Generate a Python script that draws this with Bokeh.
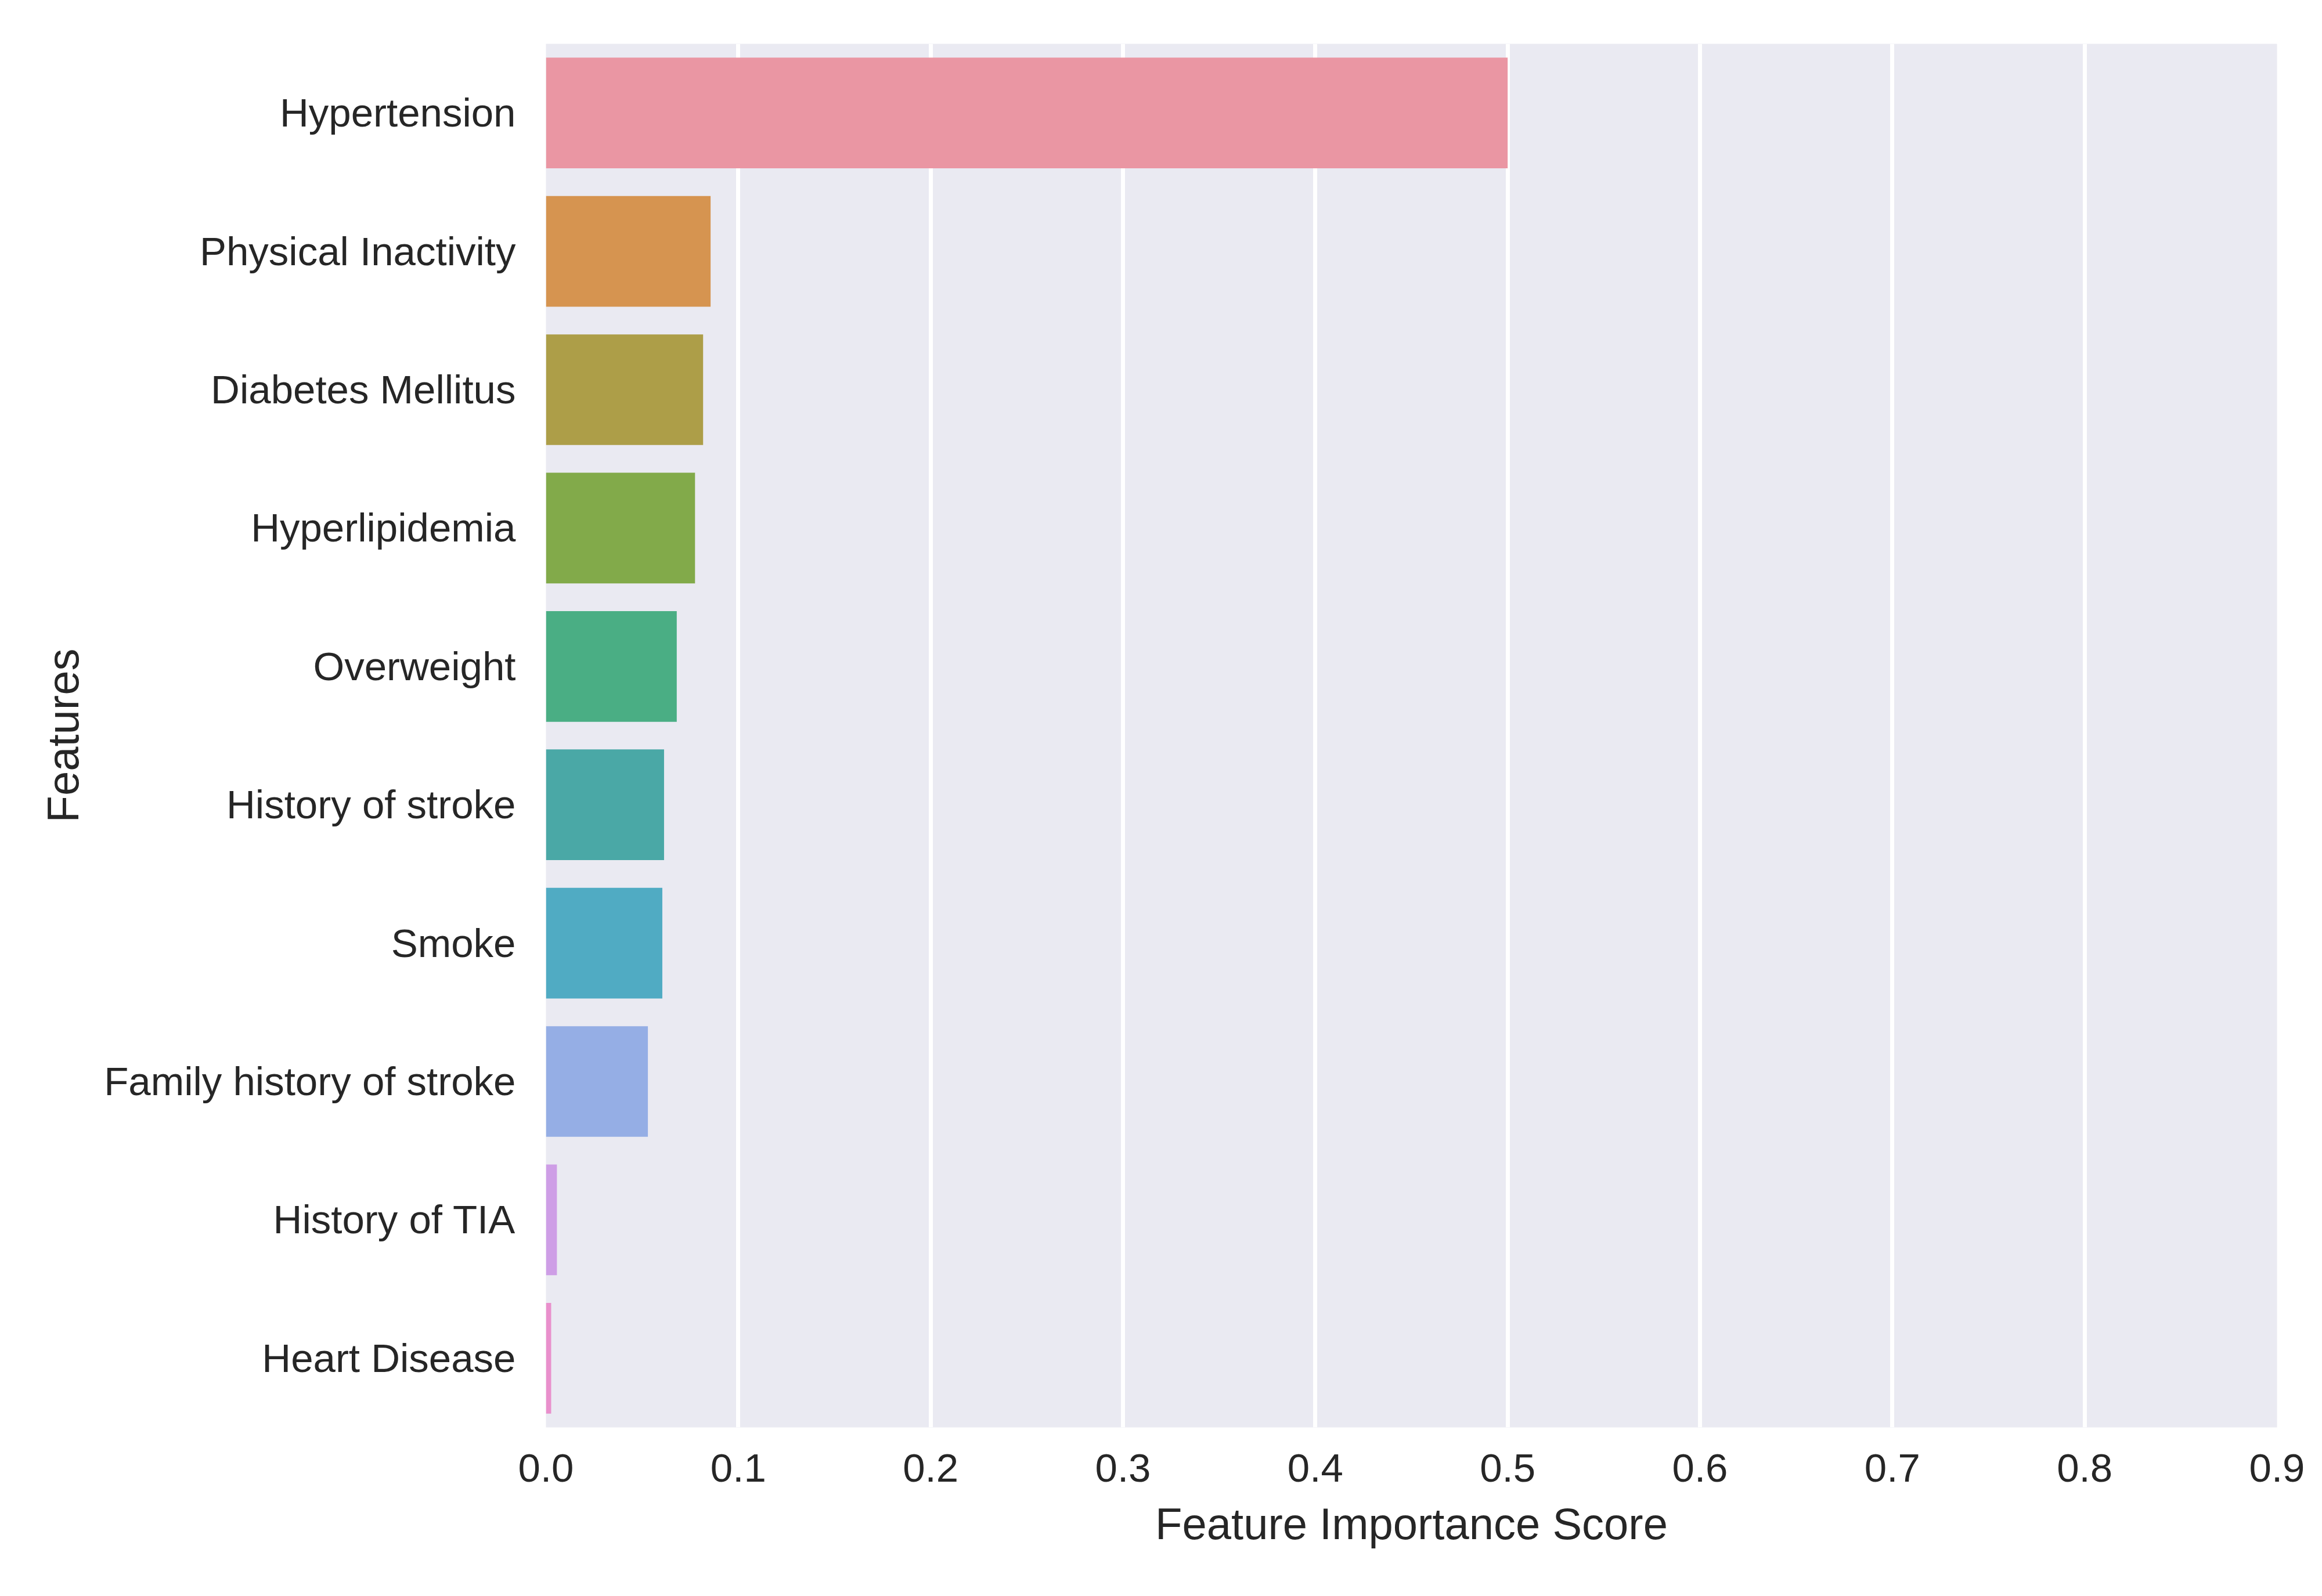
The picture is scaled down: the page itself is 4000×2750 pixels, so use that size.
from bokeh.plotting import figure
from bokeh.models import ColumnDataSource, FactorRange, Range1d, FixedTicker, PrintfTickFormatter
from bokeh.embed import file_html
from bokeh.resources import INLINE

features = ["Hypertension", "Physical Inactivity", "Diabetes Mellitus", "Hyperlipidemia",
            "Overweight", "History of stroke", "Smoke", "Family history of stroke",
            "History of TIA", "Heart Disease"]
scores = [0.500, 0.0856, 0.0817, 0.0775, 0.0680, 0.0614, 0.0605, 0.0530, 0.0057, 0.0027]
colors = ["#ea96a3", "#d69450", "#ad9e48", "#82aa4a", "#4aae84", "#4aa8a6",
          "#50abc3", "#95aee5", "#ce9ee6", "#e990cc"]
x_ticks = [0.0, 0.1, 0.2, 0.3, 0.4, 0.5, 0.6, 0.7, 0.8, 0.9]

FONT = "Liberation Sans"
TXT = "#262626"

src = ColumnDataSource(dict(feature=features, score=scores, color=colors))

p = figure(width=3984, height=2734, output_backend="svg", toolbar_location=None,
           y_range=FactorRange(factors=list(reversed(features))),
           x_range=Range1d(0, 0.9),
           min_border_left=940, min_border_right=62, min_border_top=75, min_border_bottom=275)

p.hbar(y="feature", right="score", left=0, height=0.8, color="color", source=src, line_color=None)

p.background_fill_color = "#eaeaf2"
p.border_fill_color = "white"
p.outline_line_color = None

p.xgrid.grid_line_color = "white"
p.xgrid.grid_line_width = 7
p.ygrid.grid_line_color = None
p.xaxis.ticker = FixedTicker(ticks=x_ticks)
p.xaxis.formatter = PrintfTickFormatter(format="%.1f")

for ax in (p.xaxis[0], p.yaxis[0]):
    ax.axis_line_color = None
    ax.major_tick_line_color = None
    ax.minor_tick_line_color = None
    ax.major_label_text_font = FONT
    ax.major_label_text_font_size = "69px"
    ax.major_label_text_color = TXT
    ax.axis_label_text_font = FONT
    ax.axis_label_text_font_size = "76px"
    ax.axis_label_text_font_style = "normal"
    ax.axis_label_text_color = TXT

p.xaxis.axis_label = "Feature Importance Score"
p.yaxis.axis_label = "Features"
p.xaxis.major_label_standoff = 40
p.yaxis.major_label_standoff = 46
p.xaxis.axis_label_standoff = 27
p.yaxis.axis_label_standoff = 25

open("out.html", "w").write(file_html(p, INLINE))
